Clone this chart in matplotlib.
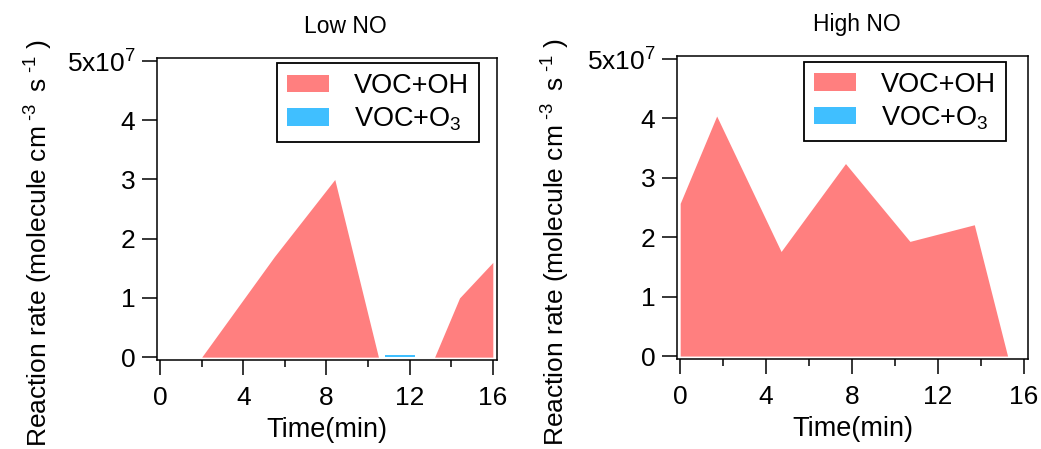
import numpy as np
import matplotlib
matplotlib.use('Agg')
import matplotlib.pyplot as plt
from matplotlib.ticker import FixedLocator, FixedFormatter
from matplotlib.patches import Rectangle
from matplotlib.legend_handler import HandlerPatch

plt.rcParams['font.family'] = ['Liberation Sans', 'DejaVu Sans']
plt.rcParams['mathtext.fontset'] = 'custom'
plt.rcParams['mathtext.rm'] = 'Liberation Sans'
plt.rcParams['mathtext.it'] = 'Liberation Sans'

# data (rates in units of 1e7 molecule cm-3 s-1)
low_t_oh   = [2.0, 5.5, 8.4, 10.5, 13.2, 14.4, 16.0]
low_oh     = [0.0, 1.7, 3.0, 0.0, 0.0, 1.0, 1.6]
low_t_o3   = [10.8, 12.25]
low_o3     = [0.04, 0.04]

high_t_oh  = [0.0, 1.7, 4.7, 7.7, 10.7, 13.7, 15.25]
high_oh    = [2.57, 4.04, 1.76, 3.24, 1.93, 2.21, 0.0]

titles = ['Low NO', 'High NO']
ytick_vals = [0, 1, 2, 3, 4, 5]
ytick_labels = ['0', '1', '2', '3', '4', r'5x10$^{7}$']
xtick_vals = [0, 4, 8, 12, 16]

c_oh = '#FF7F7F'
c_o3 = '#40BFFF'


# legend swatch sits at the right of the handle box, leaving a gap on the left
def swatch(legend, orig_handle, xdescent, ydescent, width, height, fontsize):
    rw = width * 0.62
    return Rectangle((-xdescent + width - rw, -ydescent), rw, height)


fig = plt.figure(figsize=(10.41, 4.49), dpi=100)
ax1 = fig.add_axes([0.1508, 0.198, 0.3266, 0.6726])
ax2 = fig.add_axes([0.6503, 0.2004, 0.3372, 0.6748])

ax1.fill_between(low_t_oh, low_oh, 0, color=c_oh, lw=0, label='VOC+OH')
ax1.fill_between(low_t_o3, low_o3, 0, color=c_o3, lw=0, label='VOC+O$_3$')

ax2.fill_between(high_t_oh, high_oh, 0, color=c_oh, lw=0, label='VOC+OH')
ax2.fill_between([], [], 0, color=c_o3, lw=0, label='VOC+O$_3$')

legpos = [(0.947, 0.983), (0.937, 0.980)]
title_x = [0.553, 0.513]
for ax, ttl, lp, tx in zip([ax1, ax2], titles, legpos, title_x):
    ax.set_xlim(-0.15, 16.2)
    ax.set_ylim(-0.05, 5.05)
    ax.xaxis.set_major_locator(FixedLocator(xtick_vals))
    ax.xaxis.set_minor_locator(FixedLocator([2, 6, 10, 14]))
    ax.yaxis.set_major_locator(FixedLocator(ytick_vals))
    ax.yaxis.set_major_formatter(FixedFormatter(ytick_labels))
    ax.tick_params(axis='both', which='major', direction='out', length=10.5, width=1.1,
                   labelsize=19, color='black')
    ax.tick_params(axis='x', which='minor', direction='out', length=5, width=1.1)
    ax.tick_params(axis='x', pad=8)
    ax.tick_params(axis='y', pad=5)
    for s in ax.spines.values():
        s.set_linewidth(1.1)
    ax.set_title(ttl, fontsize=16.5, x=tx, pad=18)
    ax.set_xlabel('Time(min)', fontsize=19.5, labelpad=5)
    ax.set_ylabel(r'Reaction rate (molecule cm$^{\ \text{-}3\ }$ s$^{\ \text{-}1}$ )', fontsize=19)
    ax.yaxis.set_label_coords(-0.30, 0.388)
    leg = ax.legend(loc='upper right', bbox_to_anchor=lp, fontsize=19.5, frameon=True,
                    fancybox=False, edgecolor='black', framealpha=1,
                    handlelength=1.55, handleheight=0.6, handletextpad=0.95,
                    borderpad=0.35, labelspacing=0.25, borderaxespad=0,
                    handler_map={Rectangle: HandlerPatch(patch_func=swatch)})
    leg.get_frame().set_linewidth(1.3)

fig.savefig('out.png', dpi=100)
